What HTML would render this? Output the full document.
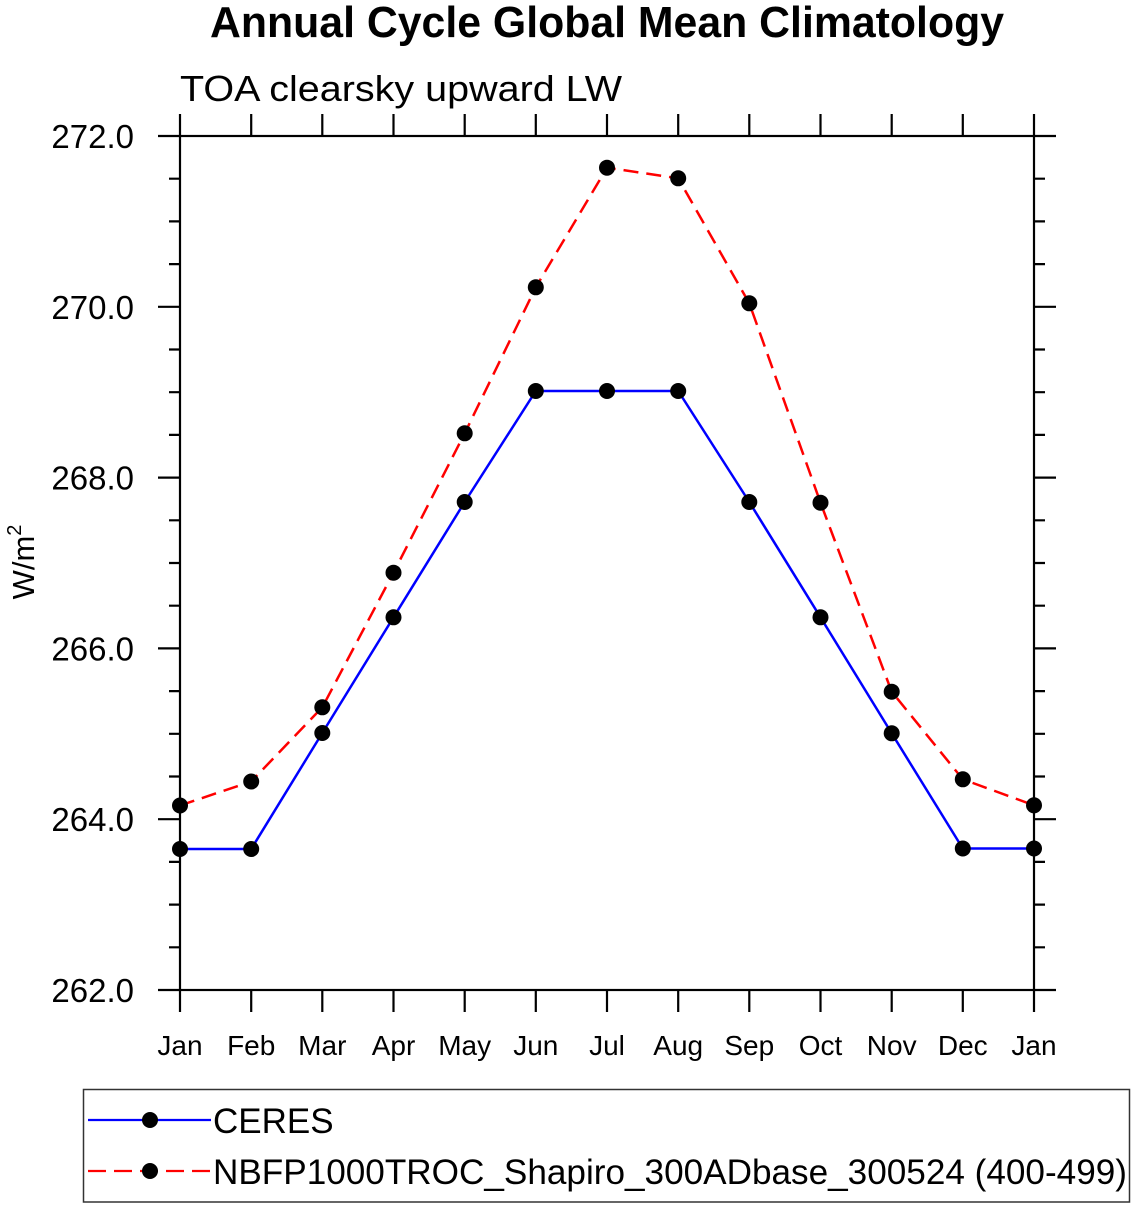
<!DOCTYPE html>
<html><head><meta charset="utf-8"><style>
html,body{margin:0;padding:0;background:#fff;}
svg{display:block;}
text{font-family:"Liberation Sans",Arial,sans-serif;fill:#000;}
</style></head><body>
<svg width="1137" height="1209" viewBox="0 0 1137 1209" xmlns="http://www.w3.org/2000/svg">
<rect width="1137" height="1209" fill="#fff"/>
<!-- titles -->
<text x="210" y="37" font-size="44" font-weight="bold" textLength="794" lengthAdjust="spacingAndGlyphs">Annual Cycle Global Mean Climatology</text>
<text x="180" y="101" font-size="36" textLength="442" lengthAdjust="spacingAndGlyphs">TOA clearsky upward LW</text>

<!-- frame -->
<g stroke="#000" stroke-width="2.2" fill="none">
<rect x="180" y="136" width="854" height="854"/>
<path d="M180 136V114M251.2 136V114M322.3 136V114M393.5 136V114M464.7 136V114M535.8 136V114M607 136V114M678.2 136V114M749.3 136V114M820.5 136V114M891.7 136V114M962.8 136V114M1034 136V114"/>
<path d="M180 990V1012M251.2 990V1012M322.3 990V1012M393.5 990V1012M464.7 990V1012M535.8 990V1012M607 990V1012M678.2 990V1012M749.3 990V1012M820.5 990V1012M891.7 990V1012M962.8 990V1012M1034 990V1012"/>
<path d="M158 136H180M158 306.8H180M158 477.6H180M158 648.4H180M158 819.2H180M158 990H180"/>
<path d="M1034 136H1056M1034 306.8H1056M1034 477.6H1056M1034 648.4H1056M1034 819.2H1056M1034 990H1056"/>
<path d="M169 178.7H180M169 221.4H180M169 264.1H180M169 349.5H180M169 392.2H180M169 434.9H180M169 520.3H180M169 563H180M169 605.7H180M169 691.1H180M169 733.8H180M169 776.5H180M169 861.9H180M169 904.6H180M169 947.3H180"/>
<path d="M1034 178.7H1045M1034 221.4H1045M1034 264.1H1045M1034 349.5H1045M1034 392.2H1045M1034 434.9H1045M1034 520.3H1045M1034 563H1045M1034 605.7H1045M1034 691.1H1045M1034 733.8H1045M1034 776.5H1045M1034 861.9H1045M1034 904.6H1045M1034 947.3H1045"/>
</g>

<!-- y tick labels -->
<g font-size="33" text-anchor="end">
<text x="134" y="148">272.0</text>
<text x="134" y="318.8">270.0</text>
<text x="134" y="489.6">268.0</text>
<text x="134" y="660.4">266.0</text>
<text x="134" y="831.2">264.0</text>
<text x="134" y="1002">262.0</text>
</g>

<!-- x tick labels -->
<g font-size="28" text-anchor="middle">
<text x="180" y="1055">Jan</text>
<text x="251.2" y="1055">Feb</text>
<text x="322.3" y="1055">Mar</text>
<text x="393.5" y="1055">Apr</text>
<text x="464.7" y="1055">May</text>
<text x="535.8" y="1055">Jun</text>
<text x="607" y="1055">Jul</text>
<text x="678.2" y="1055">Aug</text>
<text x="749.3" y="1055">Sep</text>
<text x="820.5" y="1055">Oct</text>
<text x="891.7" y="1055">Nov</text>
<text x="962.8" y="1055">Dec</text>
<text x="1034" y="1055">Jan</text>
</g>

<!-- y axis label -->
<text transform="translate(34,562) rotate(-90)" font-size="31" text-anchor="middle">W/m<tspan dy="-13" font-size="20">2</tspan></text>

<!-- CERES -->
<polyline fill="none" stroke="#0000ff" stroke-width="2.5" points="180,849 251.2,849 322.3,733 393.5,617.3 464.7,502 535.8,391 607,391 678.2,391 749.3,502 820.5,617.3 891.7,733.3 962.8,848.5 1034,848.5"/>
<!-- Model -->
<polyline fill="none" stroke="#ff0000" stroke-width="2.5" stroke-dasharray="15 8" points="180,805.5 251.2,781.5 322.3,707.3 393.5,572.7 464.7,433.3 535.8,287.3 607,167.7 678.2,178.3 749.3,303.3 820.5,502.7 891.7,691.7 962.8,779.3 1034,805.3"/>

<g fill="#000">
<circle cx="180" cy="849" r="8"/><circle cx="251.2" cy="849" r="8"/><circle cx="322.3" cy="733" r="8"/><circle cx="393.5" cy="617.3" r="8"/><circle cx="464.7" cy="502" r="8"/><circle cx="535.8" cy="391" r="8"/><circle cx="607" cy="391" r="8"/><circle cx="678.2" cy="391" r="8"/><circle cx="749.3" cy="502" r="8"/><circle cx="820.5" cy="617.3" r="8"/><circle cx="891.7" cy="733.3" r="8"/><circle cx="962.8" cy="848.5" r="8"/><circle cx="1034" cy="848.5" r="8"/>
<circle cx="180" cy="805.5" r="8"/><circle cx="251.2" cy="781.5" r="8"/><circle cx="322.3" cy="707.3" r="8"/><circle cx="393.5" cy="572.7" r="8"/><circle cx="464.7" cy="433.3" r="8"/><circle cx="535.8" cy="287.3" r="8"/><circle cx="607" cy="167.7" r="8"/><circle cx="678.2" cy="178.3" r="8"/><circle cx="749.3" cy="303.3" r="8"/><circle cx="820.5" cy="502.7" r="8"/><circle cx="891.7" cy="691.7" r="8"/><circle cx="962.8" cy="779.3" r="8"/><circle cx="1034" cy="805.3" r="8"/>
</g>

<!-- legend -->
<rect x="83.5" y="1089.5" width="1046" height="112.5" fill="none" stroke="#333" stroke-width="1.5"/>
<line x1="88" y1="1120" x2="211" y2="1120" stroke="#0000ff" stroke-width="2.2"/>
<circle cx="150" cy="1120" r="8" fill="#000"/>
<line x1="88" y1="1171" x2="211" y2="1171" stroke="#ff0000" stroke-width="2.2" stroke-dasharray="18 8"/>
<circle cx="150" cy="1171" r="8" fill="#000"/>
<text x="213" y="1133" font-size="35">CERES</text>
<text x="213" y="1184" font-size="35" textLength="914" lengthAdjust="spacingAndGlyphs">NBFP1000TROC_Shapiro_300ADbase_300524 (400-499)</text>
</svg>
</body></html>
